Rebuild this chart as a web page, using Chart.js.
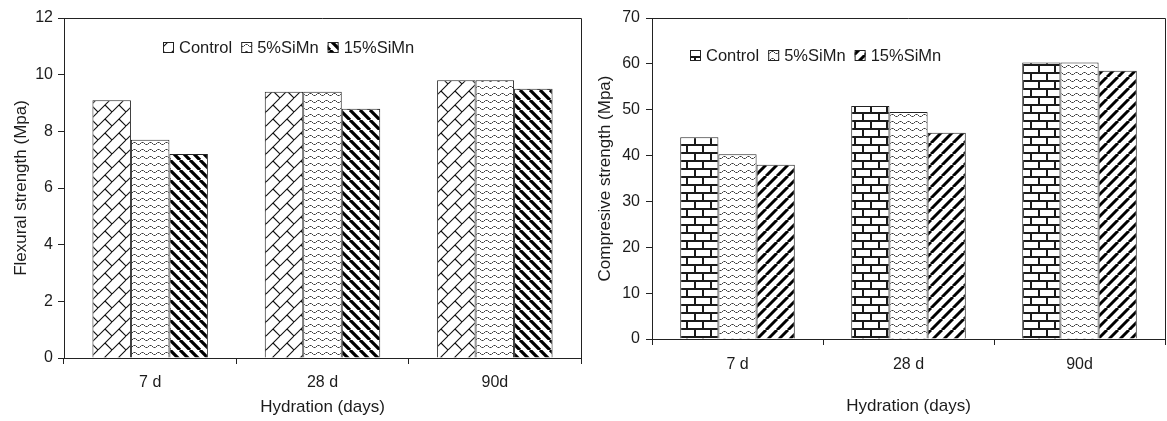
<!DOCTYPE html>
<html>
<head>
<meta charset="utf-8">
<script src="https://cdn.jsdelivr.net/npm/chart.js@4.4.0/dist/chart.umd.min.js"></script>
<style>
  html, body { margin: 0; padding: 0; background: #fff; }
  #wrap { position: relative; width: 1167px; height: 421px; overflow: hidden; }
  .panel { position: absolute; top: 0; height: 421px; }
  #leftPanel { left: 0; width: 590px; }
  #rightPanel { left: 590px; width: 577px; }
  canvas { display: block; }
</style>
</head>
<body>
<div id="wrap">
  <div class="panel" id="leftPanel"><canvas id="flexural" width="590" height="421"></canvas></div>
  <div class="panel" id="rightPanel"><canvas id="compressive" width="577" height="421"></canvas></div>
</div>
<script>
// Hydration ages on the x axis
const hydrationAges = ['7 d', '28 d', '90d'];
const seriesNames = ['Control', '5%SiMn', '15%SiMn'];

// Flexural strength (MPa)
const flexControl = [9.1, 9.4, 9.8];
const flex5SiMn = [7.7, 9.4, 9.8];
const flex15SiMn = [7.2, 8.8, 9.5];
const flexAxis = { min: 0, max: 12, step: 2 };

// Compressive strength (MPa)
const compControl = [44.0, 50.8, 60.3];
const comp5SiMn = [40.3, 49.5, 60.3];
const comp15SiMn = [38.0, 45.0, 58.5];
const compAxis = { min: 0, max: 70, step: 10 };

const FONT = "'Liberation Sans', Arial, sans-serif";
const INK = '#1c1c1c';
const LINE = '#222';

// ---- hatch fills ----
const patCtx = document.createElement('canvas').getContext('2d');
function tile(w, h, draw) {
  const c = document.createElement('canvas');
  c.width = w; c.height = h;
  const g = c.getContext('2d');
  g.fillStyle = '#fff';
  g.fillRect(0, 0, w, h);
  draw(g, w, h);
  return patCtx.createPattern(c, 'repeat');
}

// slanted bricks: long "/" courses with short "\" joints
const diagonalBrick = tile(14, 14, (g, w, h) => {
  g.strokeStyle = '#111';
  g.lineWidth = 1.1;
  g.beginPath();
  for (const k of [-1, 0, 1]) { g.moveTo(k * w, h); g.lineTo(k * w + w, 0); }
  g.moveTo(w / 2, h / 2); g.lineTo(w, h);
  g.stroke();
});

// fine dotted waves
const waves = tile(8, 7, (g, w) => {
  for (let x = 0; x < w; x++) {
    const y = Math.round(3 + 1.2 * Math.sin(2 * Math.PI * x / w));
    g.fillStyle = x % 2 ? '#8a8a8a' : '#3a3a3a';
    g.fillRect(x, y, 1, 1);
  }
});

// thick diagonal stripes
function stripes(period, blackW, dir) {
  return tile(period, period, (g, w, h) => {
    g.strokeStyle = '#000';
    g.lineWidth = blackW / Math.SQRT2;
    g.beginPath();
    for (const k of [-1, 0, 1]) {
      if (dir === 'down') { g.moveTo(k * w, 0); g.lineTo(k * w + w, h); }
      else { g.moveTo(k * w, h); g.lineTo(k * w + w, 0); }
    }
    g.stroke();
  });
}
const stripesDown = stripes(10, 4.6, 'down');
const stripesUp = stripes(11, 4.2, 'up');

// horizontal running-bond bricks
const bricks = tile(16, 16, (g, w) => {
  g.fillStyle = '#1a1a1a';
  g.fillRect(0, 0, w, 2);
  g.fillRect(0, 8, w, 2);
  g.fillRect(0, 0, 2, 8);
  g.fillRect(8, 8, 2, 8);
});

// ---- plugins ----
const frameLines = {
  id: 'frameLines',
  afterDatasetsDraw(chart) {
    const { left, top, right, bottom } = chart.chartArea;
    const ctx = chart.ctx;
    ctx.save();
    ctx.strokeStyle = LINE;
    ctx.lineWidth = 1;
    ctx.beginPath();
    ctx.moveTo(left, Math.round(top) + 0.5);
    ctx.lineTo(Math.round(right) + 0.5, Math.round(top) + 0.5);
    ctx.lineTo(Math.round(right) + 0.5, bottom);
    ctx.stroke();
    ctx.restore();
  }
};

const insideLegend = {
  id: 'insideLegend',
  afterDraw(chart, args, opts) {
    const ctx = chart.ctx;
    const b = opts.box;
    ctx.save();
    ctx.font = opts.size + 'px ' + FONT;
    ctx.textBaseline = 'middle';
    let x = opts.x;
    chart.data.datasets.forEach(ds => {
      const top = Math.round(opts.y - b / 2);
      ctx.fillStyle = ds.backgroundColor;
      ctx.fillRect(x, top, b, b);
      ctx.strokeStyle = LINE;
      ctx.lineWidth = 1;
      ctx.strokeRect(x + 0.5, top + 0.5, b - 1, b - 1);
      x += b + opts.gap;
      ctx.fillStyle = INK;
      ctx.fillText(ds.label, x, opts.y + 1);
      x += ctx.measureText(ds.label).width + opts.itemGap;
    });
    ctx.restore();
  }
};

function barChart(canvasId, series, fills, axis, yTitle, geom) {
  return new Chart(document.getElementById(canvasId), {
    type: 'bar',
    data: {
      labels: hydrationAges,
      datasets: series.map((values, i) => ({
        label: seriesNames[i],
        data: values,
        backgroundColor: fills[i],
        borderColor: LINE,
        borderWidth: 1,
        barPercentage: 1.0,
        categoryPercentage: 0.67
      }))
    },
    options: {
      responsive: false,
      animation: false,
      events: [],
      layout: { padding: { top: 18, right: geom.padRight, bottom: 0, left: 0 } },
      plugins: {
        legend: { display: false },
        tooltip: { enabled: false },
        insideLegend: { x: geom.legendX, y: geom.legendY, box: 11, gap: 5, itemGap: 9, size: 16.5 }
      },
      scales: {
        x: {
          offset: true,
          grid: { offset: true, drawOnChartArea: false, drawTicks: true, tickLength: 6, color: LINE },
          border: { display: true, color: LINE, width: 1 },
          ticks: { color: INK, font: { family: FONT, size: 16 }, padding: geom.xTickPad, maxRotation: 0 },
          title: { display: true, text: 'Hydration (days)', color: INK,
                   font: { family: FONT, size: 17 }, padding: { top: 0, bottom: geom.xTitlePad } },
          afterFit: s => { s.height = geom.xAxisHeight; }
        },
        y: {
          min: axis.min,
          max: axis.max,
          grid: { drawOnChartArea: false, drawTicks: true, tickLength: 6, color: LINE },
          border: { display: true, color: LINE, width: 1 },
          ticks: { stepSize: axis.step, color: INK, font: { family: FONT, size: 16 }, padding: geom.yTickPad },
          title: { display: true, text: yTitle, color: INK,
                   font: { family: FONT, size: 17 }, padding: { top: geom.yTitlePad, bottom: 0 } },
          afterFit: s => { s.width = geom.yAxisWidth; }
        }
      }
    },
    plugins: [frameLines, insideLegend]
  });
}

barChart('flexural',
  [flexControl, flex5SiMn, flex15SiMn],
  [diagonalBrick, waves, stripesDown],
  flexAxis, 'Flexural strength (Mpa)',
  { padRight: 9, yAxisWidth: 64, xAxisHeight: 63, xTickPad: 9, xTitlePad: 3,
    yTickPad: 5, yTitlePad: 11, legendX: 163, legendY: 47 });

barChart('compressive',
  [compControl, comp5SiMn, comp15SiMn],
  [bricks, waves, stripesUp],
  compAxis, 'Compresive strength (Mpa)',
  { padRight: 2, yAxisWidth: 62, xAxisHeight: 82, xTickPad: 10, xTitlePad: 4,
    yTickPad: 6, yTitlePad: 5, legendX: 100, legendY: 55 });
</script>
</body>
</html>
